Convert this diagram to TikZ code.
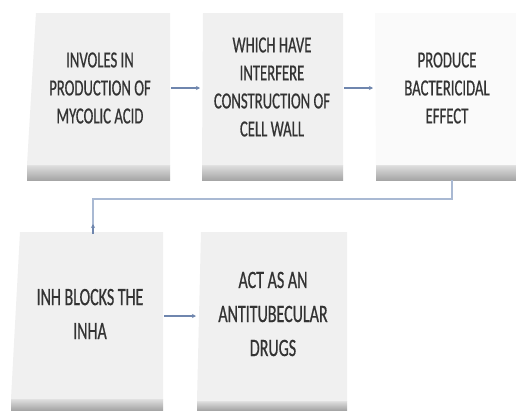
\documentclass[tikz,border=0pt]{standalone}
\usepackage{fontspec}
\newfontfamily\condfont[FakeStretch=0.64,FakeBold=0.6]{Carlito}
\usetikzlibrary{arrows.meta}
\definecolor{boxgray}{HTML}{F0F0F0}
\definecolor{boxwhite}{HTML}{FAFAFA}
\definecolor{arrowblue}{HTML}{6F86AE}
\definecolor{linkblue}{HTML}{A9B9D3}
\tikzset{
  boxtext/.style={align=center, font=\condfont\fontsize{23}{28}\selectfont, text=black!80, inner sep=0pt},
  boxtextlow/.style={align=center, font=\condfont\fontsize{25}{34}\selectfont, text=black!80, inner sep=0pt},
  flowarrow/.style={draw=arrowblue, line width=1.2pt, -{Stealth[length=4pt,width=4pt]}},
  linkline/.style={draw=linkblue, line width=1.2pt},
}
% args: top-left x, bottom-left x, right x, top y, bottom y, shadow bottom y, fill
\newcommand{\flowbox}[7]{%
  \shade[top color=gray!25, bottom color=gray!70] (#2,#5) rectangle (#3,#6);
  \fill[#7] (#1,#4) -- (#3,#4) -- (#3,#5) -- (#2,#5) -- cycle;
}
\begin{document}
\begin{tikzpicture}[x=1pt,y=-1pt]
\useasboundingbox (0,0) rectangle (516,410);
\fill[white] (0,0) rectangle (516,410);
% boxes
\flowbox{36}{27}{170}{13}{165}{180}{boxgray}
\flowbox{203}{202}{343}{13}{165}{180}{boxgray}
\flowbox{375}{376}{516}{13}{165}{180}{boxwhite}
\flowbox{20}{11}{163}{232}{399}{410}{boxgray}
\flowbox{201}{197}{347}{232}{401}{410}{boxgray}
% texts
\node[boxtext] (t1) at (100,88) {INVOLES IN\\PRODUCTION OF\\MYCOLIC ACID};
\node[boxtext] (t2) at (272,87) {WHICH HAVE\\INTERFERE\\CONSTRUCTION OF\\CELL WALL};
\node[boxtext] (t3) at (447,88) {PRODUCE\\BACTERICIDAL\\EFFECT};
\node[boxtextlow] (t4) at (90,314) {INH BLOCKS THE\\INHA};
\node[boxtextlow] (t5) at (273,314) {ACT AS AN\\ANTITUBECULAR\\DRUGS};
% anchors for connectors
\coordinate (b1r) at (171,88);
\coordinate (b2l) at (200,88);
\coordinate (b2r) at (344,88);
\coordinate (b3l) at (373,88);
\coordinate (b3b) at (452,180);
\coordinate (bend) at (93,199);
\coordinate (b4t) at (93,224);
\coordinate (b4r) at (164,316);
\coordinate (b5l) at (196,316);
% connectors
\draw[flowarrow] (b1r) -- (b2l);
\draw[flowarrow] (b2r) -- (b3l);
\draw[linkline] (b3b) |- (bend) -- ([yshift=-9pt]b4t);
\draw[flowarrow] ([yshift=-10pt]b4t) -- (b4t);
\draw[flowarrow] (b4r) -- (b5l);
\end{tikzpicture}
\end{document}
